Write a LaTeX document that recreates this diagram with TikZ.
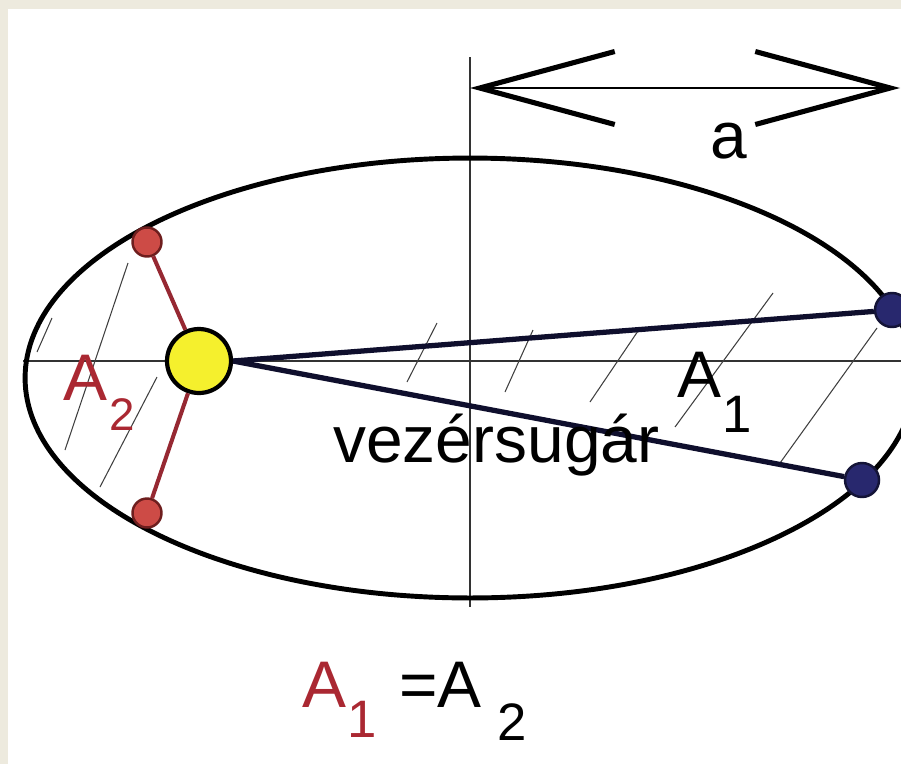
\documentclass[tikz,border=0pt]{standalone}
\usepackage{fontspec}
\setmainfont{Liberation Sans}
\usetikzlibrary{arrows.meta, positioning}
\definecolor{paperbeige}{RGB}{237, 234, 222}
\definecolor{sunyellow}{RGB}{245, 240, 45}
\definecolor{reddotfill}{RGB}{205, 75, 70}
\definecolor{reddotrim}{RGB}{110, 30, 30}
\definecolor{rayred}{RGB}{150, 40, 50}
\definecolor{labelred}{RGB}{170, 40, 50}
\definecolor{navyfill}{RGB}{40, 40, 110}
\definecolor{navyrim}{RGB}{20, 20, 55}
\definecolor{raynavy}{RGB}{15, 15, 45}
\tikzset{
    orbit/.style={draw=black, line width=2.8pt},
    axis/.style={draw=black!80, line width=1.2pt},
    hatch/.style={draw=black!75, line width=0.6pt},
    sun/.style={circle, draw=black, line width=2.4pt, fill=sunyellow, minimum size=1.28cm, inner sep=0pt},
    reddot/.style={circle, draw=reddotrim, line width=1.4pt, fill=reddotfill, minimum size=0.58cm, inner sep=0pt},
    bluedot/.style={circle, draw=navyrim, line width=1.4pt, fill=navyfill, minimum size=0.68cm, inner sep=0pt},
    redray/.style={draw=rayred, line width=2.3pt},
    blueray/.style={draw=raynavy, line width=3pt},
    dimarrow/.style={>={Straight Barb[length=2.7cm, width=1.46cm, line width=2.9pt]}, <->, draw=black, line width=1.4pt},
    big/.style={font=\fontsize{37.5}{40}\selectfont, inner sep=0pt, anchor=base west},
    sub/.style={font=\fontsize{30}{32}\selectfont, inner sep=0pt, anchor=base west}
}
\begin{document}
\begin{tikzpicture}[x=0.02cm, y=-0.02cm]
    \useasboundingbox (0,0) rectangle (901,764);
    \clip (0,0) rectangle (901,764);
    \fill[paperbeige] (0,0) rectangle (901,764);
    \fill[white] (8,9) rectangle (901,764);

    % axes
    \draw[axis] (470,57) -- (470,607);
    \draw[axis] (23,361) -- (901,361);

    % hatching of the two swept areas
    \draw[hatch] (437,323) -- (407,382);
    \draw[hatch] (533,330) -- (505,392);
    \draw[hatch] (640,328) -- (590,402);
    \draw[hatch] (773,293) -- (675,427);
    \draw[hatch] (877,328) -- (780,463);
    \draw[hatch] (128,263) -- (65,450);
    \draw[hatch] (157,377) -- (100,487);
    \draw[hatch] (52,318) -- (37,352);

    % orbit
    \draw[orbit] (470,378) ellipse [x radius=8.9cm, y radius=4.4cm];

    % sun and planet positions
    \node[sun] (sun) at (199,361) {};
    \node[reddot] (redA) at (147,242) {};
    \node[reddot] (redB) at (147,513) {};
    \node[bluedot] (navyA) at (892,310) {};
    \node[bluedot] (navyB) at (862,480) {};

    \draw[redray] (sun) -- (redA);
    \draw[redray] (sun) -- (redB);
    \draw[blueray] (sun.east) -- (navyA);
    \draw[blueray] (sun.east) -- (navyB);

    % semi-major axis
    \coordinate (dimleft) at (470,88);
    \coordinate (dimright) at (900,88);
    \draw[dimarrow] (dimleft) -- (dimright);
    \node[big] (alabel) at (710,158) {a};

    % labels
    \node[big, text=labelred] (atwo) at (63,400) {A};
    \node[sub, text=labelred, font=\fontsize{26}{28}\selectfont] (atwosub) at ([shift={(1,30)}]atwo.base east) {2};
    \node[big] (aone) at (677,397) {A};
    \node[sub] (aonesub) at ([shift={(0,35)}]aone.base east) {1};
    \node[big] (radius) at (333,462) {vezérsugár};

    % equal areas
    \node[big, text=labelred] (eqleft) at (302,707) {A};
    \node[sub, text=labelred] (eqleftsub) at ([shift={(0,30)}]eqleft.base east) {1};
    \node[big] (eqright) at (399,707) {=A};
    \node[sub] (eqrightsub) at ([shift={(15,33)}]eqright.base east) {2};
\end{tikzpicture}
\end{document}
